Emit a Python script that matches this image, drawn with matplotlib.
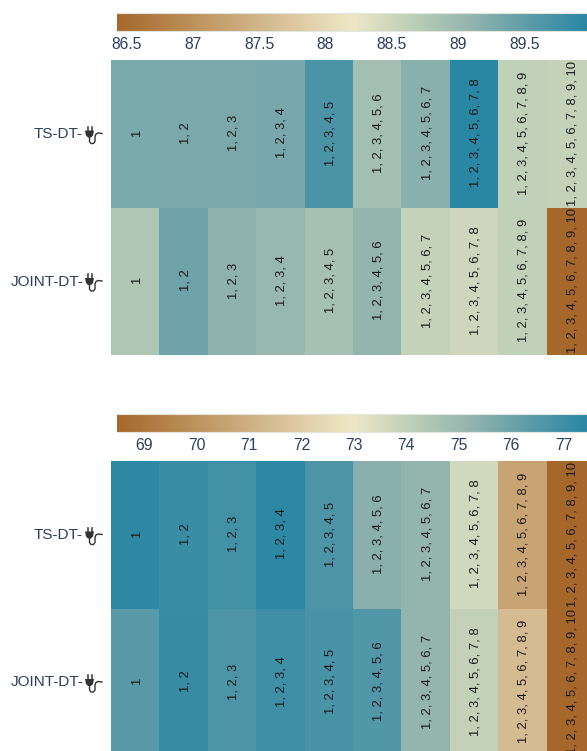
import matplotlib
matplotlib.use('Agg')
import matplotlib.pyplot as plt
from matplotlib.colors import LinearSegmentedColormap, Normalize
from matplotlib.lines import Line2D
from matplotlib.patches import Polygon
import numpy as np

W, H = 587, 751

row_names = ['TS-DT-', 'JOINT-DT-']
cell_labels = [', '.join(str(k) for k in range(1, n + 1)) for n in range(1, 11)]

top_ts = [89.3, 89.28, 89.28, 89.32, 89.68, 88.93, 89.16, 89.97, 88.62, 88.6]
top_joint = [88.8, 89.39, 89.14, 89.03, 88.9, 89.08, 88.6, 88.5, 88.62, 86.43]
top_ticks = [86.5, 87, 87.5, 88, 88.5, 89, 89.5]
top_ticklabels = ['86.5', '87', '87.5', '88', '88.5', '89', '89.5']

bottom_ts = [77.4, 77.1, 76.9, 77.4, 76.7, 75.4, 75.2, 73.7, 70.6, 68.5]
bottom_joint = [76.5, 77.15, 76.7, 77.0, 76.8, 76.6, 75.2, 74.0, 71.4, 68.5]
bottom_ticks = [69, 70, 71, 72, 73, 74, 75, 76, 77]

cmap = LinearSegmentedColormap.from_list(
    'brown_teal',
    [(0, '#a6682a'), (0.5, '#eee8c8'), (0.625, '#bfcfb8'), (0.75, '#94b5ae'), (0.875, '#5f9ca8'), (1, '#2a87a3')])
ink = '#2a3f5f'

plt.rcParams['font.family'] = ['Liberation Sans', 'DejaVu Sans']

fig = plt.figure(figsize=(W / 100, H / 100), dpi=100)


def box(x0, y0, x1, y1):
    # pixel box (y from the top) to figure fractions
    return [x0 / W, 1 - y1 / H, (x1 - x0) / W, (y1 - y0) / H]


def plug(x, y):
    # plug icon, x/y is the top left in pixels, about 17 x 17
    def p(dx, dy):
        return ((x + dx) / W, 1 - (y + dy) / H)
    col = '#333333'
    fig.add_artist(Polygon([p(0, 4), p(9, 4), p(8, 9), p(6, 11), p(3, 11), p(1, 9)],
                           closed=True, color=col, transform=fig.transFigure, lw=0))
    for dx in (2.5, 6.5):
        a, b = p(dx, 0), p(dx, 4)
        fig.add_artist(Line2D([a[0], b[0]], [a[1], b[1]], color=col, lw=1.1, transform=fig.transFigure))
    pts = [p(4.5, 11), p(4.5, 15), p(6, 17), p(8.5, 17), p(10, 15), p(10, 10), p(11, 7.5), p(13, 6.5), p(17, 7)]
    fig.add_artist(Line2D([q[0] for q in pts], [q[1] for q in pts], color=col, lw=1.0,
                          transform=fig.transFigure))


def panel(ts, joint, lo, hi, ticks, ticklabels, y_bar, y_map):
    norm = Normalize(lo, hi)
    data = np.array([ts, joint])

    ax = fig.add_axes(box(111, y_map, 595, y_map + 295))
    ax.pcolormesh(data, cmap=cmap, norm=norm)
    ax.invert_yaxis()
    ax.set_xticks([])
    ax.set_yticks([])
    for s in ax.spines.values():
        s.set_visible(False)
    for r in range(2):
        for c, lab in enumerate(cell_labels):
            ax.text(c + 0.53, r + 0.495, lab, rotation=90, ha='center', va='center',
                    fontsize=9.4, color='#1a1a1a', clip_on=True)

    cax = fig.add_axes(box(117, y_bar, 587, y_bar + 18))
    grad = np.linspace(lo, hi, 256).reshape(1, -1)
    cax.imshow(grad, aspect='auto', cmap=cmap, norm=norm, extent=[lo, hi, 0, 1])
    cax.set_yticks([])
    cax.set_xticks(ticks)
    cax.set_xticklabels(ticklabels, fontsize=11.3, color=ink)
    cax.tick_params(axis='x', length=0, pad=4)
    cax.spines['left'].set_visible(False)
    cax.spines['right'].set_visible(False)
    cax.spines['top'].set_color('#e2e6dc')
    cax.spines['bottom'].set_color('#e2e6dc')

    for r, name in enumerate(row_names):
        yc = y_map + 74 + r * 147.5
        fig.text(83 / W, 1 - yc / H, name, ha='right', va='center', fontsize=11, color=ink)
        plug(85, yc - 7.5)


panel(top_ts, top_joint, 86.43, 89.97, top_ticks, top_ticklabels, 13, 60)
panel(bottom_ts, bottom_joint, 68.48, 77.45, bottom_ticks, [str(t) for t in bottom_ticks], 414, 461)

fig.savefig('out.png', dpi=100)
